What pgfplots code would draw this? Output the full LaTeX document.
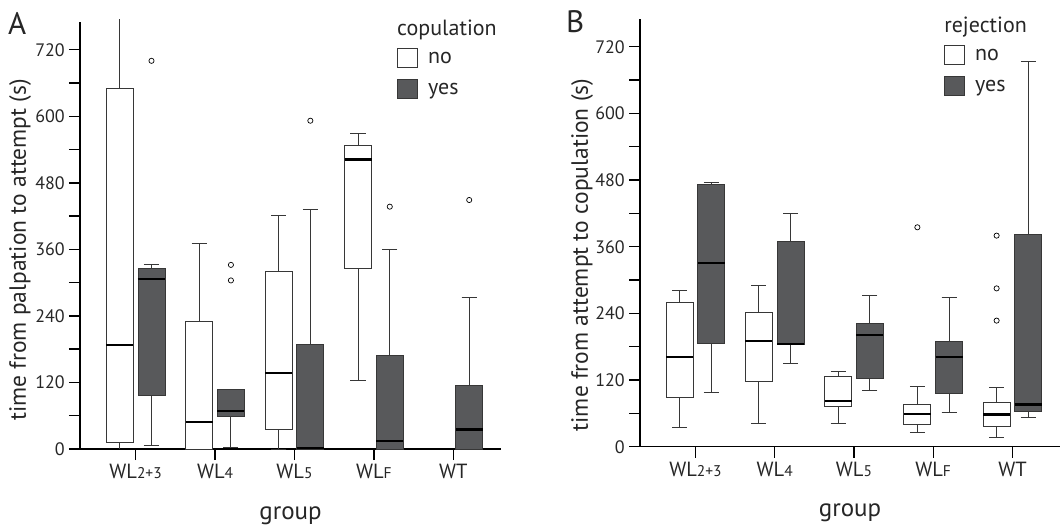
\documentclass[border=0pt]{standalone}
\usepackage{fontspec}
\setmainfont{PT Sans}
\usepackage{pgfplots}
\pgfplotsset{compat=1.18}
\usepgfplotslibrary{statistics}

\definecolor{boxgray}{RGB}{88,89,91}
\definecolor{linegray}{RGB}{55,55,55}

\newcommand{\sub}[1]{{\fontsize{15.5}{16}\selectfont #1}}

\pgfplotsset{
  panel/.style={
    scale only axis,
    xmin=-0.7, xmax=4.6, ymin=0, ymax=770,
    axis x line=bottom, axis y line=left,
    axis line style={-, line width=1.4pt, black},
    tick align=outside, major tick length=11pt,
    tick style={line width=1.4pt, black},
    xtick={0,...,4},
    xticklabels={WL\sub{2+3}, WL\sub{4}, WL\sub{5}, WL\sub{F}, WT},
    ytick={0,60,...,720},
    yticklabels={0,,120,,240,,360,,480,,600,,720},
    /pgf/number format/assume math mode=true,
    ticklabel style={font=\fontsize{18}{20}\selectfont, text=black!85},
    xticklabel style={inner sep=2pt, font=\fontsize{20.5}{22}\selectfont, yshift=-2pt},
    yticklabel style={inner sep=4pt},
    label style={font=\fontsize{23.5}{26}\selectfont, text=black!85},
    xlabel style={at={(rel axis cs:0.5,0)}, anchor=base, yshift=-70pt, font=\fontsize{25}{28}\selectfont},
    clip=false,
    boxplot/draw direction=y,
    boxplot/box extend=0.34,
    boxplot/whisker extend=0.19,
    boxplot/every median/.style={line width=2.2pt, black},
    legend style={draw=none, fill=none, inner sep=0pt, row sep=11pt,
      font=\fontsize{22}{24}\selectfont, text=black!85,
      nodes={inner sep=0pt, anchor=west}},
    legend cell align=left,
    legend image code/.code={\draw[#1, line width=0.9pt] (0pt,-9pt) rectangle (20pt,10pt);},
  },
  nobox/.style={draw=linegray, fill=white, line width=0.9pt, forget plot,
    mark=o, mark size=2.6pt, mark options={draw=black, fill=white, line width=0.7pt}},
  yesbox/.style={draw=linegray, fill=boxgray, line width=0.9pt, forget plot,
    mark=o, mark size=2.6pt, mark options={draw=black, fill=white, line width=0.7pt}},
}

\begin{document}
\begin{tikzpicture}
\path[use as bounding box] (0pt,0pt) rectangle (1062pt,525pt);

% ---------------- panel A ----------------
\begin{axis}[panel, at={(80pt,76pt)}, anchor=south west, width=421pt, height=427pt,
  ylabel={time from palpation to attempt (s)},
  ylabel style={at={(rel axis cs:-0.1425,0.466)}, rotate=0, anchor=center},
  xlabel={group},
  legend style={at={(rel axis cs:0.753,0.939)}, anchor=north west, name=legA}]
% copulation = no
\addplot[nobox, boxplot prepared={draw position=-0.2, lower whisker=0, lower quartile=12,
  median=188, upper quartile=650, upper whisker=776, whisker extend=0}] coordinates {};
\addplot[nobox, boxplot prepared={draw position=0.8, lower whisker=0, lower quartile=0,
  median=48, upper quartile=230, upper whisker=370}] coordinates {};
\addplot[nobox, boxplot prepared={draw position=1.8, lower whisker=0, lower quartile=36,
  median=137, upper quartile=321, upper whisker=421}] coordinates {};
\addplot[nobox, boxplot prepared={draw position=2.8, lower whisker=124, lower quartile=325,
  median=522, upper quartile=547, upper whisker=569}] coordinates {};
% copulation = yes
\addplot[yesbox, boxplot prepared={draw position=0.2, lower whisker=7, lower quartile=96,
  median=307, upper quartile=325, upper whisker=333}] table[row sep=\\, y index=0] {700\\};
\addplot[yesbox, boxplot prepared={draw position=1.2, lower whisker=2, lower quartile=58,
  median=69, upper quartile=108, upper whisker=108}] table[row sep=\\, y index=0] {304\\ 332\\};
\addplot[yesbox, boxplot prepared={draw position=2.2, lower whisker=0, lower quartile=0,
  median=2, upper quartile=188, upper whisker=432}] table[row sep=\\, y index=0] {592\\};
\addplot[yesbox, boxplot prepared={draw position=3.2, lower whisker=0, lower quartile=0,
  median=14, upper quartile=168, upper whisker=360}] table[row sep=\\, y index=0] {437\\};
\addplot[yesbox, boxplot prepared={draw position=4.2, lower whisker=0, lower quartile=0,
  median=35, upper quartile=114, upper whisker=274}] table[row sep=\\, y index=0] {449\\};
\addlegendimage{draw=linegray, fill=white}
\addlegendentry{\hspace{10pt}no}
\addlegendimage{draw=linegray, fill=boxgray}
\addlegendentry{\hspace{10pt}yes}
\end{axis}
\node[anchor=base west, inner sep=0pt, font=\fontsize{22}{24}\selectfont, text=black!85]
  at ([yshift=13pt]legA.north west) {copulation};
\node[anchor=base west, inner sep=0pt, font=\fontsize{31}{34}\selectfont, text=black!85]
  at (8pt,490pt) {A};

% ---------------- panel B ----------------
\begin{axis}[panel, at={(640pt,78.3pt)}, anchor=south west, width=420pt, height=427.7pt,
  ylabel={time from attempt to copulation (s)},
  ylabel style={at={(rel axis cs:-0.138,0.448)}, rotate=0, anchor=center},
  xlabel={group},
  legend style={at={(rel axis cs:0.724,0.939)}, anchor=north west, name=legB}]
% rejection = no
\addplot[nobox, boxplot prepared={draw position=-0.2, lower whisker=34, lower quartile=89,
  median=161, upper quartile=259, upper whisker=281}] coordinates {};
\addplot[nobox, boxplot prepared={draw position=0.8, lower whisker=42, lower quartile=118,
  median=191, upper quartile=242, upper whisker=291}] coordinates {};
\addplot[nobox, boxplot prepared={draw position=1.8, lower whisker=41, lower quartile=72,
  median=82, upper quartile=127, upper whisker=135}] coordinates {};
\addplot[nobox, boxplot prepared={draw position=2.8, lower whisker=26, lower quartile=40,
  median=59, upper quartile=76, upper whisker=108}] table[row sep=\\, y index=0] {395\\};
\addplot[nobox, boxplot prepared={draw position=3.8, lower whisker=16, lower quartile=36,
  median=58, upper quartile=80, upper whisker=107}] table[row sep=\\, y index=0] {227\\ 285\\ 380\\};
% rejection = yes
\addplot[yesbox, boxplot prepared={draw position=0.2, lower whisker=97, lower quartile=185,
  median=331, upper quartile=473, upper whisker=476}] coordinates {};
\addplot[yesbox, boxplot prepared={draw position=1.2, lower whisker=150, lower quartile=184,
  median=185, upper quartile=369, upper whisker=420}] coordinates {};
\addplot[yesbox, boxplot prepared={draw position=2.2, lower whisker=102, lower quartile=122,
  median=201, upper quartile=221, upper whisker=272}] coordinates {};
\addplot[yesbox, boxplot prepared={draw position=3.2, lower whisker=61, lower quartile=95,
  median=162, upper quartile=190, upper whisker=269}] coordinates {};
\addplot[yesbox, boxplot prepared={draw position=4.2, lower whisker=53, lower quartile=64,
  median=76, upper quartile=383, upper whisker=694}] coordinates {};
\addlegendimage{draw=linegray, fill=white}
\addlegendentry{\hspace{10pt}no}
\addlegendimage{draw=linegray, fill=boxgray}
\addlegendentry{\hspace{10pt}yes}
\end{axis}
\node[anchor=base west, inner sep=0pt, font=\fontsize{22}{24}\selectfont, text=black!85]
  at ([yshift=13pt]legB.north west) {rejection};
\node[anchor=base west, inner sep=0pt, font=\fontsize{31}{34}\selectfont, text=black!85]
  at (566pt,492pt) {B};
\end{tikzpicture}
\end{document}
